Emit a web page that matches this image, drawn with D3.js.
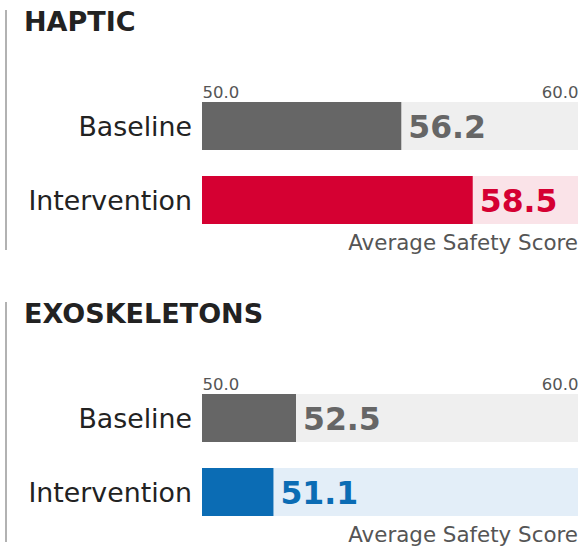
<!DOCTYPE html>
<html>

<head>
    <meta charset="utf-8">
    <style>
        body {
            margin: 0;
            background: #fff;
            font-family: 'DejaVu Sans', Verdana, sans-serif;
        }

        svg {
            display: block;
        }

        .axis .domain,
        .axis .tick line {
            display: none;
        }

        .axis .tick text {
            font-size: 16.5px;
            fill: #555;
            font-family: 'DejaVu Sans', Verdana, sans-serif;
        }
    </style>
</head>

<body>
    <svg width="583" height="548"></svg>
</body>

<script src="https://d3js.org/d3.v7.min.js"></script>

<script>
    // panels and rows
    let panels = ["HAPTIC", "EXOSKELETONS"]
    let groups = ["Baseline", "Intervention"]

    // printed scores, one per panel (baseline, intervention)
    let scores = [[56.2, 58.5], [52.5, 51.1]]
    // where the filled bars end
    let barEnds = [[55.3, 57.2], [52.5, 51.9]]

    let axisTicks = [50, 60]
    let axisTitle = "Average Safety Score"

    let fills = [
        ["#666666", "#d50032"],
        ["#666666", "#0b6cb4"]
    ]
    let tracks = [
        ["#efefef", "#fae3e8"],
        ["#efefef", "#e3eef8"]
    ]

    let svg = d3.select("svg")

    let panelH = 292
    let x = d3.scaleLinear()
        .domain(d3.extent(axisTicks))
        .range([202, 578])

    // two bars 48px high with a 26px gap
    let y = d3.scaleBand()
        .domain(groups)
        .range([102, 224])
        .paddingInner(26 / 74)
        .paddingOuter(0)

    panels.forEach(function (name, p) {
        let g = svg.append("g")
            .attr("transform", `translate(0,${p * panelH})`)

        // left rule
        g.append("line")
            .attr("x1", 6).attr("x2", 6)
            .attr("y1", 10).attr("y2", 250)
            .attr("stroke", "#999")
            .attr("stroke-width", 1.5)

        g.append("text").text(name)
            .attr("x", 24)
            .attr("y", 31)
            .attr("fill", "#222")
            .attr("font-size", "27px")
            .attr("font-weight", "bold")

        let xAxis = g.append("g")
            .attr("class", "axis")
            .attr("transform", "translate(0,98)")
            .call(d3.axisTop(x).tickValues(axisTicks).tickFormat(d3.format(".1f")).tickSize(0).tickPadding(0))
        xAxis.selectAll(".tick text")
            .attr("y", 0)
            .attr("dy", 0)
            .attr("text-anchor", (d, i) => i == 0 ? "start" : "end")

        let rows = g.selectAll(".row")
            .data(groups)
            .join("g")
            .attr("class", "row")

        // background track
        rows.append("rect")
            .attr("x", x(axisTicks[0]))
            .attr("y", d => y(d))
            .attr("width", x(axisTicks[1]) - x(axisTicks[0]))
            .attr("height", y.bandwidth())
            .attr("fill", (d, i) => tracks[p][i])

        rows.append("rect")
            .attr("x", x(axisTicks[0]))
            .attr("y", d => y(d))
            .attr("width", (d, i) => x(barEnds[p][i]) - x(axisTicks[0]))
            .attr("height", y.bandwidth())
            .attr("fill", (d, i) => fills[p][i])

        rows.append("text").text(d => d)
            .attr("x", 192)
            .attr("y", d => y(d) + y.bandwidth() / 2 + 9.5)
            .attr("text-anchor", "end")
            .attr("fill", "#222")
            .attr("font-size", "26.8px")

        rows.append("text").text((d, i) => scores[p][i].toFixed(1))
            .attr("x", (d, i) => x(barEnds[p][i]) + 7)
            .attr("y", d => y(d) + y.bandwidth() / 2 + 11.5)
            .attr("fill", (d, i) => fills[p][i])
            .attr("font-size", "31.5px")
            .attr("font-weight", "bold")

        g.append("text").text(axisTitle)
            .attr("x", 578)
            .attr("y", 250)
            .attr("text-anchor", "end")
            .attr("fill", "#555")
            .attr("font-size", "21.4px")
    })
</script>

</html>
